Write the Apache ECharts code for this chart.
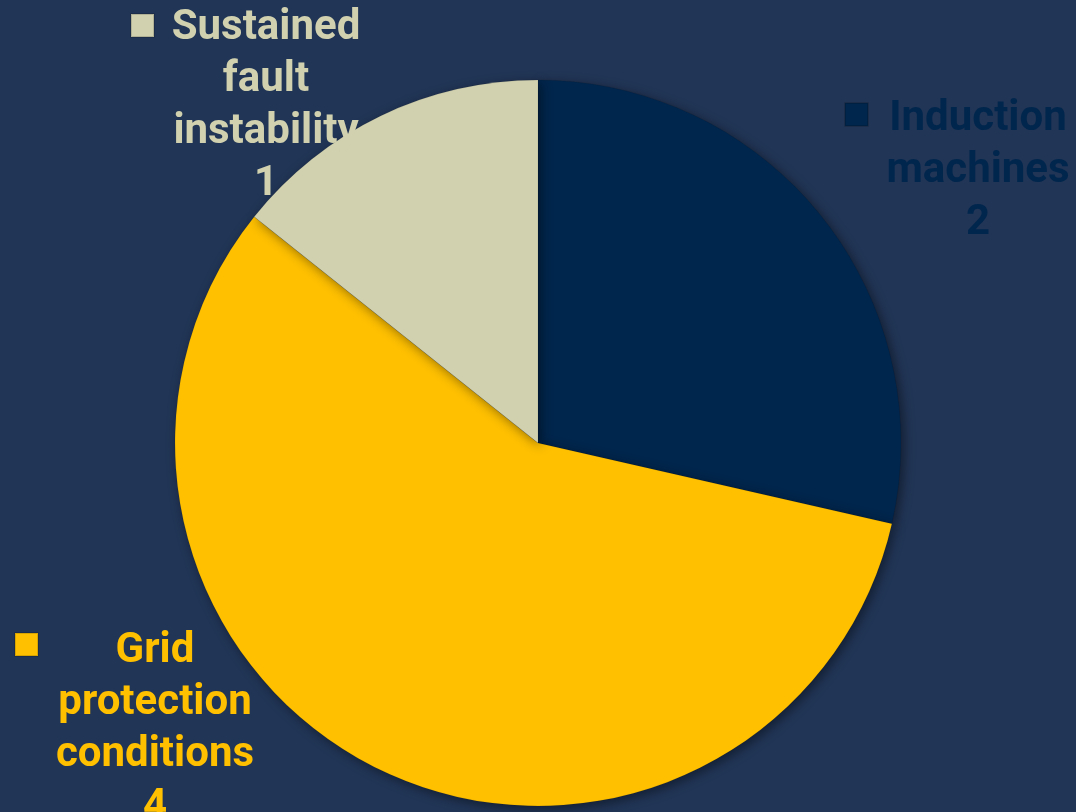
<!DOCTYPE html>
<html>
<head>
<meta charset="utf-8">
<script src="https://cdn.jsdelivr.net/npm/echarts@6/dist/echarts.min.js"></script>
<style>
html,body{margin:0;padding:0;background:#213556;}
#chart{width:1076px;height:812px;}
</style>
</head>
<body>
<div id="chart"></div>
<script>
const categories = ['Induction machines', 'Grid protection conditions', 'Sustained fault instability'];
const values = [2, 4, 1];
const colors = ['#00264D', '#FFC000', '#D1D1AF'];

// label block centres (layout only)
const labelPos = [[978, 171], [155, 729], [266, 106]];
const markerPos = [[844, 102], [14, 632], [130, 13]];

const chart = echarts.init(document.getElementById('chart'));
const seriesData = categories.map((name, i) => ({
  name: name,
  value: values[i],
  itemStyle: { color: colors[i] },
  label: { color: colors[i] }
}));

const legends = categories.map((name, i) => ({
  data: [name],
  left: markerPos[i][0],
  top: markerPos[i][1],
  padding: 0,
  icon: 'rect',
  itemWidth: 23,
  itemHeight: 23,
  selectedMode: false,
  formatter: () => '',
  textStyle: { fontSize: 1 }
}));

chart.setOption({
  backgroundColor: '#213556',
  animation: false,
  legend: legends,
  series: [{
    type: 'pie',
    center: [538, 443],
    radius: [0, 363],
    startAngle: 90,
    clockwise: true,
    data: seriesData,
    itemStyle: {
      borderColor: 'rgba(0,0,0,0.15)',
      borderWidth: 0.5,
      shadowBlur: 12,
      shadowOffsetX: 3,
      shadowOffsetY: 3,
      shadowColor: 'rgba(0,0,0,0.45)'
    },
    labelLine: { show: false },
    label: {
      show: true,
      position: 'outside',
      fontFamily: 'Roboto',
      fontWeight: 'bold',
      fontSize: 42,
      lineHeight: 52,
      align: 'center',
      verticalAlign: 'middle',
      formatter: p => p.name.split(' ').join('\n') + '\n' + p.value
    },
    labelLayout: p => ({
      x: labelPos[p.dataIndex][0],
      y: labelPos[p.dataIndex][1],
      align: 'center',
      verticalAlign: 'middle'
    })
  }]
});
</script>
</body>
</html>
